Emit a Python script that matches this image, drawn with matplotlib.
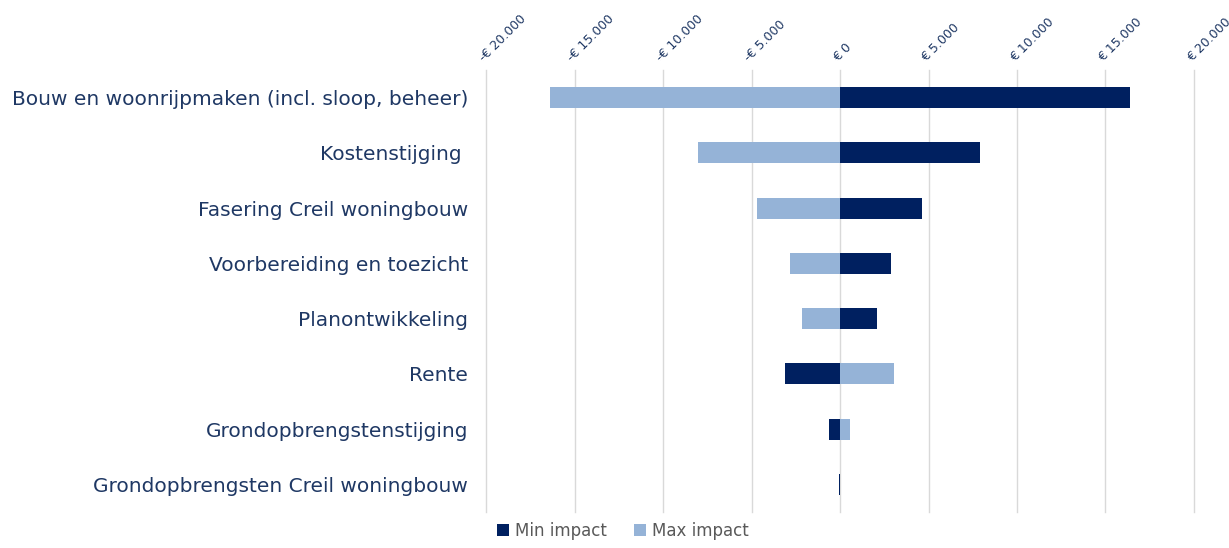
import matplotlib
matplotlib.use("Agg")
import matplotlib.pyplot as plt
from matplotlib.ticker import FuncFormatter

# data
categories = [
    "Bouw en woonrijpmaken (incl. sloop, beheer)",
    "Kostenstijging ",
    "Fasering Creil woningbouw",
    "Voorbereiding en toezicht",
    "Planontwikkeling",
    "Rente",
    "Grondopbrengstenstijging",
    "Grondopbrengsten Creil woningbouw",
]
min_impact = [16400, 7900, 4650, 2880, 2100, -3100, -600, -30]
max_impact = [-16400, -8050, -4700, -2850, -2150, 3050, 580, 10]

navy = "#002060"
light = "#95B3D7"
label_color = "#1F3864"

plt.rcParams["font.family"] = "DejaVu Sans"

fig = plt.figure(figsize=(12.29, 5.48), dpi=100)
ax = fig.add_axes([0.3955, 0.0657, 0.576, 0.8063])

y = list(range(len(categories)))
ax.barh(y, min_impact, height=0.38, color=navy, label="Min impact", zorder=3)
ax.barh(y, max_impact, height=0.38, color=light, label="Max impact", zorder=3)

ax.set_xlim(-20000, 20000)
ax.set_ylim(len(categories) - 0.5, -0.5)
ax.set_xticks(range(-20000, 20001, 5000))


def euro(v, _pos):
    s = f"{abs(int(v)):,}".replace(",", ".")
    return ("-€ " if v < 0 else "€ ") + s


ax.xaxis.set_major_formatter(FuncFormatter(euro))
ax.xaxis.tick_top()
ax.tick_params(axis="x", length=0, pad=4, labelsize=9, labelcolor=label_color)
for lbl in ax.get_xticklabels():
    lbl.set_rotation(45)
    lbl.set_ha("left")
    lbl.set_va("bottom")
    lbl.set_rotation_mode("anchor")

ax.set_yticks(y)
ax.set_yticklabels(categories)
ax.tick_params(axis="y", length=0, pad=13, labelsize=14.5, labelcolor=label_color)

ax.grid(True, axis="x", color="#D9D9D9", linewidth=1.0, zorder=0)
for gl in ax.get_xgridlines():
    gl.set_clip_on(False)
for spine in ax.spines.values():
    spine.set_visible(False)

fig.legend(loc="center", bbox_to_anchor=(0.507, 0.031), ncol=2, frameon=False,
           fontsize=12, handlelength=0.7, handleheight=0.7, handletextpad=0.4,
           columnspacing=1.6, labelcolor="#595959")

fig.savefig("out.png", dpi=100)
